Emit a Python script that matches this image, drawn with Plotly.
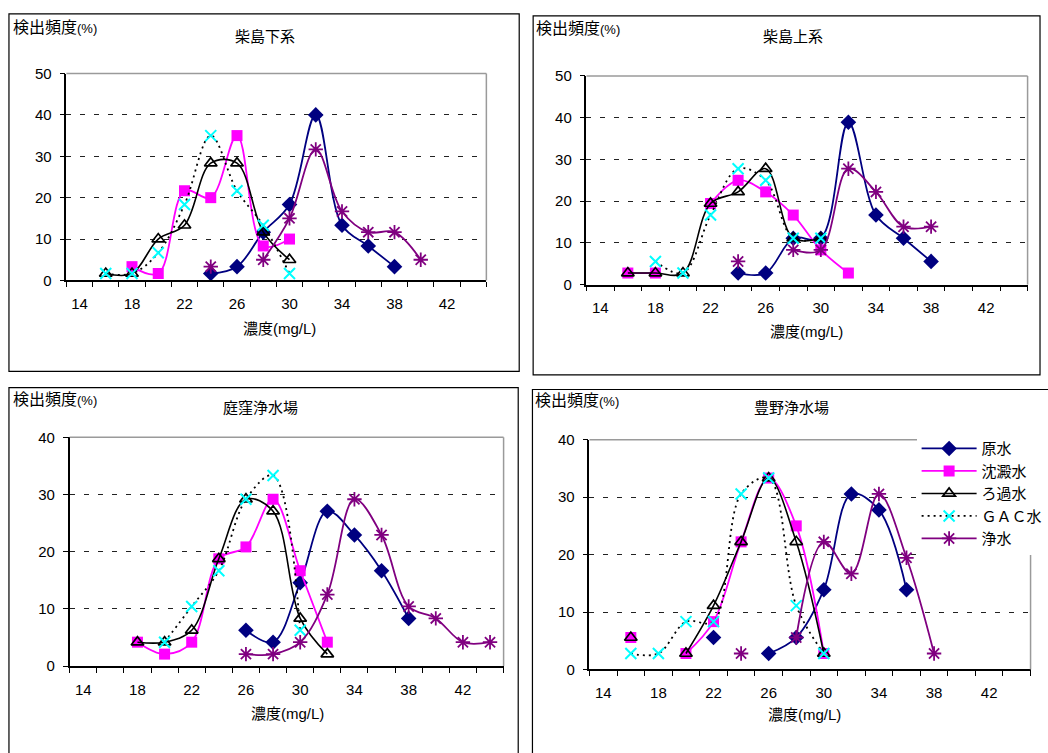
import plotly.graph_objects as go

W, H = 1048, 753

# ---------------- data ----------------
CATEGORIES = [14, 16, 18, 20, 22, 24, 26, 28, 30, 32, 34, 36, 38, 40, 42, 44]
X_TICK_LABELS = [14, 18, 22, 26, 30, 34, 38, 42]
SERIES_NAMES = ["原水", "沈澱水", "ろ過水", "ＧＡＣ水", "浄水"]
PANEL_TITLES = ["柴島下系", "柴島上系", "庭窪浄水場", "豊野浄水場"]
Y_MAX = [50, 50, 40, 40]

# 柴島下系
P1_RAW  = [None, None, None, None, None, 1.67, 3.33, 11.67, 18.33, 40.0, 13.33, 8.33, 3.33, None, None, None]
P1_SED  = [None, None, 3.33, 1.67, 21.67, 20.0, 35.0, 8.33, 10.0, None, None, None, None, None, None, None]
P1_FILT = [None, 1.67, 1.67, 10.0, 13.33, 28.33, 28.33, 11.67, 5.0, None, None, None, None, None, None, None]
P1_GAC  = [None, 1.67, 1.67, 6.67, 18.33, 35.0, 21.67, 13.33, 1.67, None, None, None, None, None, None, None]
P1_FIN  = [None, None, None, None, None, 3.33, None, 5.0, 15.0, 31.67, 16.67, 11.67, 11.67, 5.0, None, None]

# 柴島上系
P2_RAW  = [None, None, None, None, None, 2.78, 2.78, 11.11, 11.11, 38.89, 16.67, 11.11, 5.56, None, None, None]
P2_SED  = [None, 2.78, 2.78, None, 19.44, 25.0, 22.22, 16.67, 8.33, 2.78, None, None, None, None, None, None]
P2_FILT = [None, 2.78, 2.78, 2.78, 19.44, 22.22, 27.78, 11.11, 11.11, None, None, None, None, None, None, None]
P2_GAC  = [None, None, 5.56, 2.78, 16.67, 27.78, 25.0, 11.11, 11.11, None, None, None, None, None, None, None]
P2_FIN  = [None, None, None, None, None, 5.56, None, 8.33, 8.33, 27.78, 22.22, 13.89, 13.89, None, None, None]

# 庭窪浄水場
P3_RAW  = [None, None, None, None, None, None, 6.25, 4.17, 14.58, 27.08, 22.92, 16.67, 8.33, None, None, None]
P3_SED  = [None, None, 4.17, 2.08, 4.17, 18.75, 20.83, 29.17, 16.67, 4.17, None, None, None, None, None, None]
P3_FILT = [None, None, 4.17, 4.17, 6.25, 18.75, 29.17, 27.08, 8.33, 2.08, None, None, None, None, None, None]
P3_GAC  = [None, None, None, 4.17, 10.42, 16.67, 29.17, 33.33, 6.25, None, None, None, None, None, None, None]
P3_FIN  = [None, None, None, None, None, None, 2.08, 2.08, 4.17, 12.5, 29.17, 22.92, 10.42, 8.33, 4.17, 4.17]

# 豊野浄水場
P4_RAW  = [None, None, None, None, 5.56, None, 2.78, 5.56, 13.89, 30.56, 27.78, 13.89, None, None, None, None]
P4_SED  = [None, 5.56, None, 2.78, 8.33, 22.22, 33.33, 25.0, 2.78, None, None, None, None, None, None, None]
P4_FILT = [None, 5.56, None, 2.78, 11.11, 22.22, 33.33, 22.22, 2.78, None, None, None, None, None, None, None]
P4_GAC  = [None, 2.78, 2.78, 8.33, 8.33, 30.56, 33.33, 11.11, 2.78, None, None, None, None, None, None, None]
P4_FIN  = [None, None, None, None, None, 2.78, None, 5.56, 22.22, 16.67, 30.56, 19.44, 2.78, None, None, None]

PANEL_DATA = [
    [P1_RAW, P1_SED, P1_FILT, P1_GAC, P1_FIN],
    [P2_RAW, P2_SED, P2_FILT, P2_GAC, P2_FIN],
    [P3_RAW, P3_SED, P3_FILT, P3_GAC, P3_FIN],
    [P4_RAW, P4_SED, P4_FILT, P4_GAC, P4_FIN],
]

# ---------------- styling / layout ----------------
FONT = "Liberation Sans, Arial, Noto Sans CJK JP"
NAVY, MAGENTA, CYAN, PURPLE = "#000080", "#FF00FF", "#00FFFF", "#800080"

STYLES = [
    dict(line=dict(color=NAVY, width=1.8), marker=dict(symbol="diamond", size=12, color=NAVY)),
    dict(line=dict(color=MAGENTA, width=1.8), marker=dict(symbol="square", size=11, color=MAGENTA)),
    dict(line=dict(color="black", width=1.6),
         marker=dict(symbol="triangle-up-open", size=11, color="black", line=dict(color="black", width=1.7))),
    dict(line=dict(color="black", width=1.8, dash="2px,4px"),
         marker=dict(symbol="x-thin-open", size=11, color=CYAN, line=dict(color=CYAN, width=2))),
    dict(line=dict(color=PURPLE, width=1.8),
         marker=dict(symbol="asterisk-open", size=12, color=PURPLE, line=dict(color=PURPLE, width=1.8))),
]

# plot areas in pixels: (left, right, top, bottom)
PLOT_AREAS = [
    (66.7, 488.7, 66.0, 277.7),
    (589.3, 1032.5, 68.5, 282.0),
    (70.0, 506.0, 438.2, 672.2),
    (592.3, 1035.5, 440.7, 675.7),
]
# outer chart boxes (left, right, top, bottom)
BOXES = [
    (9, 521.7, 5, 370.7),
    (535.7, 1045, 7, 374.3),
    (9, 520.7, 387.3, 800),
    (535, 1100, 389.3, 800),
]
TITLE_POS = [(266, 28), (797, 28), (262, 408), (795, 408)]
YTITLE_POS = [(11, 19), (537, 20), (11, 400), (536, 401)]
XTITLE_POS = [(281, 327), (810, 330), (289, 721), (808, 722)]

fig = go.Figure()
annotations = []
shapes = []

for p in range(4):
    sfx = "" if p == 0 else str(p + 1)
    xa, ya = "x" + sfx, "y" + sfx
    for s in range(5):
        st = STYLES[s]
        fig.add_trace(go.Scatter(
            x=CATEGORIES, y=PANEL_DATA[p][s], name=SERIES_NAMES[s],
            mode="lines+markers", line=dict(shape="spline", smoothing=1.0, **st["line"]),
            marker=st["marker"], connectgaps=False,
            showlegend=(p == 3), xaxis=xa, yaxis=ya, cliponaxis=False,
        ))
    l, r, t, b = PLOT_AREAS[p]
    fig.layout["xaxis" + sfx] = dict(
        domain=[l / W, r / W], range=[13, 45], anchor=ya,
        tickmode="array", tickvals=X_TICK_LABELS, ticks="", showgrid=False, zeroline=False,
        showline=True, linecolor="black", linewidth=1.5,
        tickfont=dict(size=15, family=FONT, color="black"), ticklabelstandoff=9,
        minor=dict(tickmode="array", tickvals=list(range(13, 46, 2)), ticks="outside",
                   ticklen=5, tickcolor="black", tickwidth=1, showgrid=False),
        fixedrange=True,
    )
    fig.layout["yaxis" + sfx] = dict(
        domain=[1 - b / H, 1 - t / H], range=[0, Y_MAX[p]], anchor=xa,
        tickmode="linear", tick0=0, dtick=10, ticks="outside", ticklen=5, tickcolor="black",
        showgrid=True, gridcolor="#222222", gridwidth=1, griddash="5px,9px", zeroline=False,
        showline=True, linecolor="black", linewidth=1.5,
        tickfont=dict(size=15, family=FONT, color="black"), ticklabelstandoff=5,
        fixedrange=True,
    )
    shapes.append(dict(type="line", xref=xa + " domain", yref=ya + " domain",
                       x0=0, x1=1, y0=1, y1=1, line=dict(color="#9a9a9a", width=1.5), layer="above"))
    shapes.append(dict(type="line", xref=xa + " domain", yref=ya + " domain",
                       x0=1, x1=1, y0=0, y1=1, line=dict(color="#9a9a9a", width=1.5), layer="above"))
    bl, br, bt, bb = BOXES[p]
    shapes.append(dict(type="rect", xref="paper", yref="paper",
                       x0=bl / W, x1=br / W, y0=1 - bb / H, y1=1 - bt / H,
                       line=dict(color="black", width=1.2), layer="below"))
    tx, ty = TITLE_POS[p]
    annotations.append(dict(text=PANEL_TITLES[p], x=tx / W, y=1 - ty / H, xref="paper", yref="paper",
                            showarrow=False, xanchor="center", yanchor="middle",
                            font=dict(size=15, family=FONT, color="black")))
    yx, yy = YTITLE_POS[p]
    annotations.append(dict(text="検出頻度<span style='font-size:13px'>(%)</span>",
                            x=yx / W, y=1 - yy / H, xref="paper", yref="paper",
                            showarrow=False, xanchor="left", yanchor="middle",
                            font=dict(size=16, family=FONT, color="black")))
    xx, xy = XTITLE_POS[p]
    annotations.append(dict(text="濃度(mg/L)", x=xx / W, y=1 - xy / H, xref="paper", yref="paper",
                            showarrow=False, xanchor="center", yanchor="middle",
                            font=dict(size=15, family=FONT, color="black")))

fig.update_layout(
    width=W, height=H, margin=dict(l=0, r=0, t=0, b=0),
    paper_bgcolor="white", plot_bgcolor="white",
    font=dict(family=FONT, color="black", size=15),
    shapes=shapes, annotations=annotations,
    legend=dict(x=921 / W, y=1 - 433 / H, xanchor="left", yanchor="top",
                bgcolor="white", borderwidth=0, itemwidth=55, tracegroupgap=0,
                font=dict(size=15, family=FONT, color="black")),
)

POST = ("var d=document.documentElement,b=document.body;"
        "d.style.margin='0';d.style.padding='0';d.style.overflow='hidden';"
        "d.style.width='1048px';d.style.height='753px';"
        "b.style.margin='0';b.style.padding='0';b.style.overflow='hidden';"
        "b.style.width='1048px';b.style.height='753px';"
        "var g=document.getElementById('{plot_id}');"
        "g.style.position='fixed';g.style.left='0px';g.style.top='0px';g.style.margin='0';"
        "window.scrollTo(0,0);")

fig.write_html("out.html", post_script=POST, config={"displayModeBar": False})
